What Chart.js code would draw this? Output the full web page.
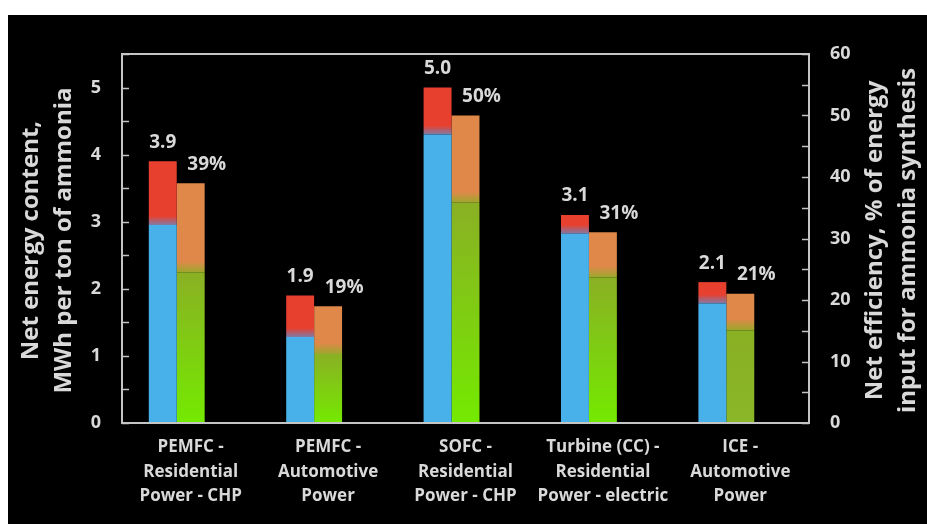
<!DOCTYPE html>
<html>
<head>
<meta charset="utf-8">
<script src="https://cdn.jsdelivr.net/npm/chart.js@4.4.1/dist/chart.umd.min.js"></script>
<style>
  html, body { margin: 0; padding: 0; background: #fff; }
</style>
</head>
<body>
<canvas id="myChart" width="927" height="524"></canvas>
<script>
// categories on the x axis
var categories = [
  ["PEMFC -", "Residential", "Power - CHP"],
  ["PEMFC -", "Automotive", "Power"],
  ["SOFC -", "Residential", "Power - CHP"],
  ["Turbine (CC) -", "Residential", "Power - electric"],
  ["ICE -", "Automotive", "Power"]
];

// net energy content, MWh per ton of ammonia (blue + red = total)
var energyBase = [2.95, 1.28, 4.30, 2.82, 1.78];
var energyExtra = [0.95, 0.62, 0.70, 0.28, 0.32];
var energyLabels = ["3.9", "1.9", "5.0", "3.1", "2.1"];

// net efficiency, % (green + orange = total)
var effBase = [24.5, 11.2, 35.8, 23.7, 15.1];
var effExtra = [14.5, 7.8, 14.2, 7.3, 5.9];
var effLabels = ["39%", "19%", "50%", "31%", "21%"];

// axis ranges
var leftMax = 5.5, leftStep = 0.5;
var rightMax = 60, rightStep = 5;

var textColor = '#d9d9d9';
var frameColor = '#c4c4c4';
var greenBottom = ['#74ea00', '#74ea00', '#74ea00', '#74ea00', '#8ab628'];

// vertical gradient starting at a value, blending over a few pixels
function edgeGradient(c, axisId, from, px, c0, c1) {
  var chart = c.chart;
  if (!chart.chartArea) return c1;
  var y0 = chart.scales[axisId].getPixelForValue(from);
  var g = chart.ctx.createLinearGradient(0, y0 + 3, 0, y0 - px);
  g.addColorStop(0, c0);
  g.addColorStop(1, c1);
  return g;
}

var bgPlugin = {
  id: 'bg',
  beforeDraw: function (chart) {
    var ctx = chart.ctx;
    ctx.save();
    ctx.fillStyle = '#ffffff';
    ctx.fillRect(0, 0, chart.width, chart.height);
    ctx.fillStyle = '#000000';
    ctx.fillRect(8, 15, chart.width - 8, chart.height - 15);
    ctx.restore();
  }
};

var framePlugin = {
  id: 'frame',
  afterDatasetsDraw: function (chart) {
    var ctx = chart.ctx, a = chart.chartArea, s = chart.scales;
    ctx.save();
    ctx.strokeStyle = frameColor;
    ctx.lineWidth = 2;
    ctx.strokeRect(a.left, a.top, a.right - a.left, a.bottom - a.top);
    ctx.lineWidth = 1.5;
    ctx.beginPath();
    s.y.ticks.forEach(function (t) {
      var py = Math.round(s.y.getPixelForValue(t.value)) + 0.5;
      ctx.moveTo(a.left, py); ctx.lineTo(a.left + 7, py);
    });
    s.y2.ticks.forEach(function (t) {
      var py = Math.round(s.y2.getPixelForValue(t.value)) + 0.5;
      ctx.moveTo(a.right - 7, py); ctx.lineTo(a.right, py);
    });
    ctx.stroke();

    // value labels above the bars
    ctx.fillStyle = textColor;
    ctx.font = 'bold 19px "Open Sans"';
    ctx.textAlign = 'center';
    ctx.textBaseline = 'middle';
    var red = chart.getDatasetMeta(1).data;
    var orange = chart.getDatasetMeta(3).data;
    red.forEach(function (el, i) {
      ctx.fillText(energyLabels[i], el.x, el.y - 19);
    });
    orange.forEach(function (el, i) {
      ctx.fillText(effLabels[i], el.x + 16, el.y - 19);
    });

    // axis titles
    ctx.font = 'bold 24px "Open Sans"';
    var cy = (a.top + a.bottom) / 2 + 2;
    [[31, 'Net energy content,'], [64, 'MWh per ton of ammonia'],
     [875, 'Net efficiency, % of energy'], [908, 'input for ammonia synthesis']].forEach(function (t) {
      ctx.save();
      ctx.translate(t[0], cy);
      ctx.rotate(-Math.PI / 2);
      ctx.fillText(t[1], 0, 0);
      ctx.restore();
    });
    ctx.restore();
  }
};

var tickFont = { family: 'Open Sans', weight: 'bold', size: 18 };

new Chart("myChart", {
  type: "bar",
  data: {
    labels: categories,
    datasets: [{
      label: 'energy base',
      data: energyBase,
      backgroundColor: '#49b1ea',
      stack: 'energy',
      yAxisID: 'y'
    }, {
      label: 'energy extra',
      data: energyExtra,
      backgroundColor: function (c) {
        return edgeGradient(c, 'y', energyBase[c.dataIndex], 9, '#5b90d2', '#e8402f');
      },
      stack: 'energy',
      yAxisID: 'y'
    }, {
      label: 'efficiency base',
      data: effBase,
      backgroundColor: function (c) {
        var i = c.dataIndex, chart = c.chart;
        if (!chart.chartArea) return '#8ab024';
        var sc = chart.scales.y2;
        var g = chart.ctx.createLinearGradient(0, sc.getPixelForValue(0), 0, sc.getPixelForValue(effBase[i]));
        g.addColorStop(0, greenBottom[i]);
        g.addColorStop(1, '#8ab024');
        return g;
      },
      stack: 'eff',
      yAxisID: 'y2'
    }, {
      label: 'efficiency extra',
      data: effExtra,
      backgroundColor: function (c) {
        return edgeGradient(c, 'y2', effBase[c.dataIndex], 11, '#8ab024', '#e0884a');
      },
      stack: 'eff',
      yAxisID: 'y2'
    }, {
      // empty slot, keeps the bar pair left of the category centre
      label: '',
      data: [null, null, null, null, null],
      stack: 'spacer',
      yAxisID: 'y'
    }]
  },
  options: {
    responsive: false,
    animation: false,
    devicePixelRatio: 1,
    layout: { padding: { top: 54, left: 0, right: 0, bottom: 0 } },
    datasets: { bar: { categoryPercentage: 0.61, barPercentage: 1, borderWidth: 0 } },
    plugins: {
      legend: { display: false },
      tooltip: { enabled: false }
    },
    scales: {
      x: {
        stacked: true,
        grid: { display: false, drawTicks: false },
        border: { display: false },
        ticks: {
          color: textColor,
          font: { family: 'Open Sans', weight: 'bold', size: 17, lineHeight: 1.45 },
          padding: 12,
          maxRotation: 0,
          autoSkip: false
        },
        afterFit: function (s) { s.height = 101; }
      },
      y: {
        position: 'left',
        stacked: true,
        min: 0,
        max: leftMax,
        grid: { display: false, drawTicks: false },
        border: { display: false },
        ticks: {
          stepSize: leftStep,
          color: textColor,
          font: tickFont,
          padding: 21,
          callback: function (v) { return Number.isInteger(v) ? v : ''; }
        },
        afterFit: function (s) { s.width = 122; }
      },
      y2: {
        position: 'right',
        stacked: true,
        min: 0,
        max: rightMax,
        grid: { display: false, drawTicks: false },
        border: { display: false },
        ticks: {
          stepSize: rightStep,
          color: textColor,
          font: tickFont,
          padding: 21,
          callback: function (v) { return v % 10 === 0 ? v : ''; }
        },
        afterFit: function (s) { s.width = 118; }
      }
    }
  },
  plugins: [bgPlugin, framePlugin]
});
</script>
</body>
</html>
